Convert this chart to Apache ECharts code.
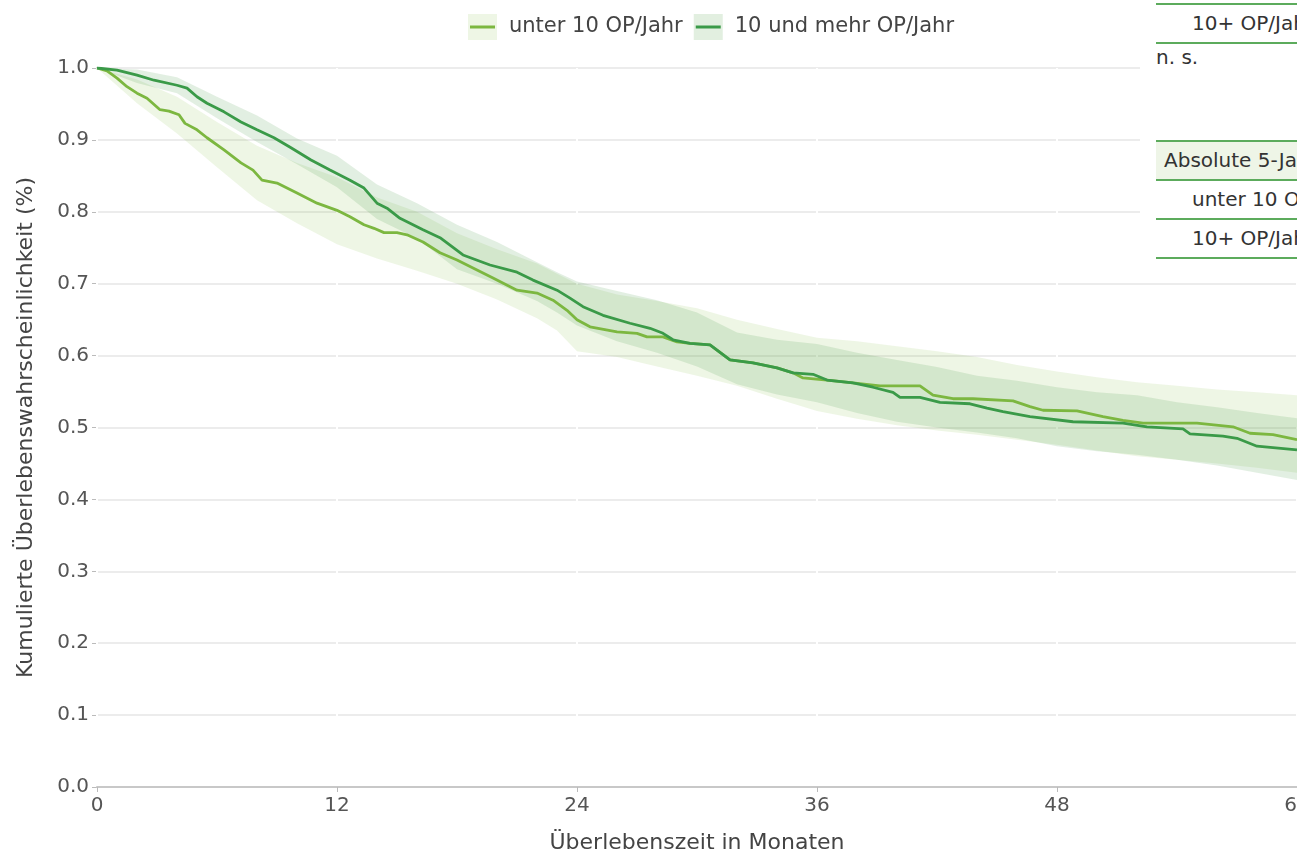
<!DOCTYPE html>
<html>
<head>
<meta charset="utf-8">
<title>Kumulierte Überlebenswahrscheinlichkeit</title>
<script src="https://cdn.jsdelivr.net/npm/echarts@6/dist/echarts.min.js"></script>
<style>
    html, body { margin: 0; padding: 0; overflow: hidden; background: #fff; }
    #km-chart { position: absolute; left: 0; top: 0; width: 1297px; height: 852px; }
    #km-table { position: absolute; left: 1140px; top: 0; width: 157px; height: 266px; background: #fff;
        overflow: hidden; font-family: "DejaVu Sans", Verdana, sans-serif; font-size: 20px; color: #333; }
    #km-table div { position: absolute; left: 16px; width: 400px; white-space: nowrap; box-sizing: border-box; }
    .row { height: 39px; line-height: 37px; border-bottom: 2px solid #5cab5c; padding-left: 36px; }
    .top { border-top: 2px solid #5cab5c; }
    .head { background: #eef5e7; padding-left: 8px; }
</style>
</head>
<body>
<div id="km-chart"></div>
<div id="km-table">
    <div class="row top" style="top:3px;height:41px;">10+ OP/Jahr</div>
    <div style="top:46px;line-height:22px;">n. s.</div>
    <div class="row top head" style="top:140px;height:41px;">Absolute 5-Jahres-Überlebensrate</div>
    <div class="row" style="top:181px;">unter 10 OP/Jahr</div>
    <div class="row" style="top:220px;">10+ OP/Jahr</div>
</div>
<script>
// Kaplan-Meier: unter 10 OP/Jahr
var monthsLow = [0, 0.5, 1, 1.5, 2, 2.5, 3.15, 3.6, 4.1, 4.4, 5, 5.5, 6.35, 7.2, 7.8, 8.25, 9, 10, 11, 12,
    12.65, 13.35, 13.85, 14.35, 15, 15.5, 16.3, 17.15, 18, 18.8, 19.8, 21, 22, 22.8, 23.5, 24, 24.65, 26, 27,
    27.5, 28.3, 29, 29.65, 30.65, 31.65, 32.8, 34, 34.8, 35.3, 36.5, 37.8, 39.15, 41.15, 41.8, 42.8, 43.8,
    45.8, 46.65, 47.3, 49, 50.3, 51.3, 52.3, 55, 56.8, 57.65, 58.8, 60];
var survLow = [1.0, 0.996, 0.986, 0.974, 0.965, 0.958, 0.942, 0.940, 0.935, 0.923, 0.914, 0.903, 0.886, 0.868,
    0.858, 0.844, 0.840, 0.826, 0.812, 0.802, 0.793, 0.782, 0.777, 0.771, 0.771, 0.768, 0.758, 0.743, 0.733,
    0.722, 0.708, 0.691, 0.687, 0.677, 0.663, 0.650, 0.640, 0.633, 0.631, 0.626, 0.626, 0.619, 0.617, 0.615,
    0.594, 0.590, 0.583, 0.576, 0.569, 0.566, 0.562, 0.558, 0.558, 0.545, 0.540, 0.540, 0.537, 0.529, 0.524,
    0.523, 0.515, 0.510, 0.506, 0.506, 0.501, 0.492, 0.490, 0.483];

// Kaplan-Meier: 10 und mehr OP/Jahr
var monthsHigh = [0, 1, 2, 2.85, 4, 4.5, 5, 5.5, 6.35, 7.2, 8, 8.85, 9.7, 10.7, 11.65, 12.65, 13.35, 14, 14.5,
    15.15, 16.3, 17.15, 18.3, 19.65, 21, 21.8, 23, 23.65, 24.3, 25.3, 26.65, 27.65, 28.3, 28.8, 29.65, 30.65,
    31.65, 32.8, 34, 34.8, 35.8, 36.5, 37.8, 38.8, 39.8, 40.15, 41.15, 42.15, 43.65, 44.5, 45.3, 46.65, 48.8,
    51.3, 52.5, 54.3, 54.65, 56.3, 57, 58, 60];
var survHigh = [1.0, 0.997, 0.990, 0.983, 0.976, 0.972, 0.960, 0.951, 0.939, 0.925, 0.914, 0.903, 0.889, 0.872,
    0.858, 0.844, 0.833, 0.812, 0.805, 0.791, 0.775, 0.764, 0.740, 0.726, 0.716, 0.705, 0.691, 0.680, 0.668,
    0.656, 0.645, 0.638, 0.631, 0.622, 0.617, 0.615, 0.594, 0.590, 0.583, 0.576, 0.574, 0.566, 0.562, 0.556,
    0.549, 0.542, 0.542, 0.535, 0.533, 0.527, 0.522, 0.515, 0.508, 0.506, 0.501, 0.498, 0.491, 0.488, 0.485,
    0.474, 0.469];

// Konfidenzbänder
var bandMonths = [0, 2, 4, 6, 8, 10, 12, 14, 16, 18, 20, 22, 23, 24, 26, 28, 30, 32, 34, 36, 38, 40, 42, 44,
    46, 48, 50, 52, 54, 56, 58, 60];
var lowCiLower = [1.0, 0.951, 0.909, 0.862, 0.816, 0.784, 0.755, 0.735, 0.718, 0.700, 0.678, 0.652, 0.635,
    0.606, 0.598, 0.585, 0.572, 0.558, 0.540, 0.523, 0.512, 0.503, 0.496, 0.490, 0.483, 0.476, 0.468, 0.460,
    0.455, 0.450, 0.444, 0.437];
var lowCiUpper = [1.0, 0.984, 0.960, 0.925, 0.892, 0.868, 0.848, 0.820, 0.800, 0.770, 0.748, 0.728, 0.714,
    0.700, 0.685, 0.676, 0.666, 0.650, 0.637, 0.625, 0.620, 0.613, 0.606, 0.598, 0.587, 0.578, 0.570, 0.563,
    0.558, 0.553, 0.549, 0.545];
var highCiLower = [1.0, 0.979, 0.965, 0.930, 0.897, 0.866, 0.834, 0.790, 0.763, 0.720, 0.700, 0.676, 0.660,
    0.642, 0.620, 0.604, 0.585, 0.560, 0.546, 0.535, 0.520, 0.508, 0.500, 0.493, 0.485, 0.474, 0.467, 0.462,
    0.455, 0.447, 0.437, 0.427];
var highCiUpper = [1.0, 0.998, 0.987, 0.960, 0.934, 0.902, 0.878, 0.838, 0.812, 0.782, 0.758, 0.730, 0.716,
    0.703, 0.690, 0.677, 0.660, 0.632, 0.622, 0.616, 0.604, 0.594, 0.584, 0.572, 0.565, 0.556, 0.549, 0.545,
    0.535, 0.528, 0.520, 0.513];

var xTicks = [0, 12, 24, 36, 48, 60];
var groupNames = ['unter 10 OP/Jahr', '10 und mehr OP/Jahr'];

var lineColors = ['#7cb740', '#3a9a48'];
var bandColors = ['rgba(140,195,80,0.15)', 'rgba(60,150,60,0.15)'];
var bandIconColors = ['#eef6e5', '#e2efe0'];
var fontFamily = '"DejaVu Sans", Verdana, sans-serif';

function pairs(xs, ys) {
    var out = [];
    for (var i = 0; i < xs.length; i++) {
        out.push([xs[i], ys[i]]);
    }
    return out;
}

// confidence band as one polygon: upper edge forward, lower edge back
function bandSeries(lower, upper, color) {
    var data = [];
    for (var i = 0; i < bandMonths.length; i++) {
        data.push([bandMonths[i], lower[i], upper[i]]);
    }
    return {
        type: 'custom',
        silent: true,
        data: data,
        encode: { x: 0, y: [1, 2] },
        renderItem: function (params, api) {
            if (params.dataIndex !== 0) {
                return;
            }
            var top = [];
            var bottom = [];
            for (var j = 0; j < data.length; j++) {
                top.push(api.coord([data[j][0], data[j][2]]));
                bottom.unshift(api.coord([data[j][0], data[j][1]]));
            }
            return {
                type: 'polygon',
                shape: { points: top.concat(bottom) },
                style: { fill: color }
            };
        }
    };
}

function extend(base, extra) {
    var out = {};
    for (var k in base) { out[k] = base[k]; }
    for (var j in extra) { out[j] = extra[j]; }
    return out;
}

var boxIcon = 'path://M0,0H29V26H0ZM36,26L36,26';
var barIcon = 'path://M0,0L0,0M36,26L36,26M2,11.5H27V14.5H2Z';

var legendBase = {
    selectedMode: false,
    left: 463,
    top: 9,
    itemWidth: 36,
    itemHeight: 26,
    itemGap: 11,
    textStyle: { fontFamily: fontFamily, fontSize: 21, color: '#444' }
};

var option = {
    animation: false,
    backgroundColor: '#fff',
    legend: [
        extend(legendBase, {
            data: [
                { name: groupNames[0], icon: boxIcon, itemStyle: { color: bandIconColors[0], borderWidth: 0 } },
                { name: groupNames[1], icon: boxIcon, itemStyle: { color: bandIconColors[1], borderWidth: 0 } }
            ]
        }),
        extend(legendBase, {
            data: [
                { name: groupNames[0], icon: barIcon, itemStyle: { color: lineColors[0], borderWidth: 0 } },
                { name: groupNames[1], icon: barIcon, itemStyle: { color: lineColors[1], borderWidth: 0 } }
            ],
            textStyle: { fontFamily: fontFamily, fontSize: 21, color: 'rgba(0,0,0,0)' }
        })
    ],
    grid: { left: 97, right: 0, top: 68, bottom: 65, outerBoundsMode: 'none', containLabel: false },
    xAxis: {
        type: 'value',
        min: 0,
        max: 60,
        interval: 12,
        name: 'Überlebenszeit in Monaten',
        nameLocation: 'middle',
        nameGap: 45,
        nameTextStyle: { fontFamily: fontFamily, fontSize: 22, color: '#444' },
        axisLine: { show: true, onZero: false, lineStyle: { color: '#c8c8c8', width: 2 } },
        axisTick: { show: true, length: 5, lineStyle: { color: '#bbb' } },
        axisLabel: {
            margin: 9,
            fontFamily: fontFamily, fontSize: 20, color: '#555',
            formatter: function (v) { return xTicks.indexOf(v) >= 0 ? String(v) : ''; }
        },
        splitLine: { show: true, lineStyle: { color: '#fff', width: 2 } },
        z: 1
    },
    yAxis: {
        type: 'value',
        min: 0,
        max: 1,
        interval: 0.1,
        name: 'Kumulierte Überlebenswahrscheinlichkeit (%)',
        nameLocation: 'middle',
        nameGap: 60,
        nameTextStyle: { fontFamily: fontFamily, fontSize: 22, color: '#444' },
        axisLine: { show: true, lineStyle: { color: '#d0d0d0', width: 2 } },
        axisTick: { show: true, length: 5, lineStyle: { color: '#bbb' } },
        axisLabel: {
            margin: 8,
            fontFamily: fontFamily, fontSize: 20, color: '#555',
            formatter: function (v) { return v.toFixed(1); }
        },
        splitLine: { show: true, lineStyle: { color: '#ececec', width: 2 } }
    },
    series: [
        bandSeries(lowCiLower, lowCiUpper, bandColors[0]),
        bandSeries(highCiLower, highCiUpper, bandColors[1]),
        {
            name: groupNames[0],
            type: 'line',
            symbol: 'none',
            color: lineColors[0],
            lineStyle: { color: lineColors[0], width: 2.8 },
            data: pairs(monthsLow, survLow)
        },
        {
            name: groupNames[1],
            type: 'line',
            symbol: 'none',
            color: lineColors[1],
            lineStyle: { color: lineColors[1], width: 2.8 },
            data: pairs(monthsHigh, survHigh)
        }
    ]
};

var kmChart = echarts.init(document.getElementById('km-chart'));
kmChart.setOption(option);
</script>
</body>
</html>
